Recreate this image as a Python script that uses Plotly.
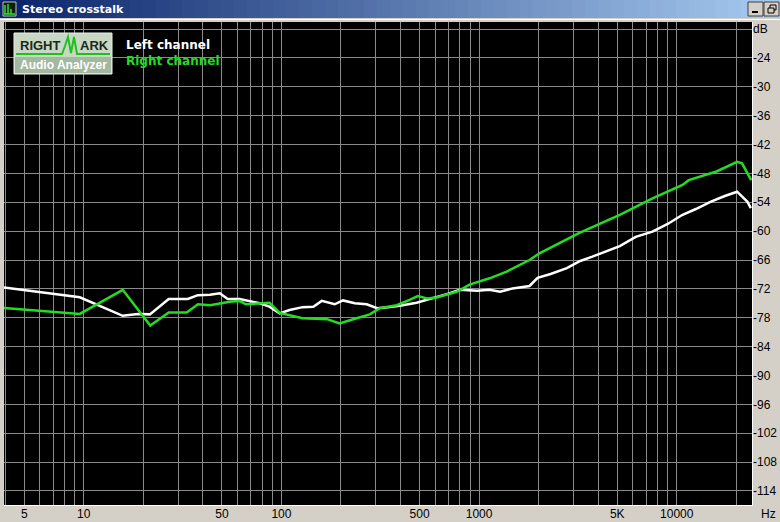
import plotly.graph_objects as go
import numpy as np

# ---------------- data ----------------
left_freq = [3.95, 9.55, 15.75, 18.8, 21.6, 26.9, 33.6, 37.8, 43.5, 48.8, 53.5, 61.5, 77.6, 87, 98,
             110, 128, 145, 160, 186, 205, 235, 270, 305, 345, 397, 483, 545, 686, 800, 978, 1130,
             1277, 1478, 1800, 1978, 2300, 2780, 3250, 3740, 4400, 5150, 6200, 7540, 9000, 10700,
             12500, 14800, 17500, 20200, 22800, 23700]
left_db = [-71.7, -73.75, -77.6, -77.2, -77.3, -74.1, -74.1, -73.3, -73.2, -72.9, -74.1, -74.1, -75.0, -75.7, -77.1,
           -76.4, -75.8, -75.7, -74.5, -75.2, -74.4, -75.0, -75.2, -76.0, -75.8, -75.5, -74.9, -74.3, -73.1, -72.2, -72.4, -72.2,
           -72.6, -71.9, -71.4, -69.7, -68.9, -67.7, -66.2, -65.3, -64.1, -63.1, -61.2, -60.1, -58.5, -56.6,
           -55.4, -53.9, -52.7, -51.8, -53.9, -55.2]

right_freq = [3.95, 9.55, 15.75, 21.7, 26.9, 33.2, 37.8, 43.5, 54.8, 61.5, 66, 87, 98, 128, 170, 197,
              240, 280, 315, 383, 445, 490, 545, 610, 770, 895, 1130, 1380, 1800, 2020, 3200, 5150,
              7540, 10700, 11500, 15900, 20200, 21400, 22800, 23800]
right_db = [-76.0, -77.2, -72.2, -79.6, -76.9, -76.9, -75.2, -75.4, -74.7, -74.5, -75.2, -74.9, -77.0, -78.1, -78.3, -79.2,
            -78.1, -77.3, -76.0, -75.4, -74.3, -73.5, -74.0, -73.8, -72.6, -71.1, -69.8, -68.4, -66.0, -64.6, -60.4, -56.6,
            -53.2, -50.4, -49.4, -47.6, -45.6, -45.9, -48.0, -49.4]

series_names = ["Left channel", "Right channel"]
series_colors = ["#ffffff", "#22dd22"]

x_grid = [4, 5, 6, 7, 8, 9, 10, 20, 30, 40, 50, 60, 70, 80, 90, 100, 200, 300, 400, 500, 600, 700, 800, 900,
          1000, 2000, 3000, 4000, 5000, 6000, 7000, 8000, 9000, 10000, 20000]
x_labels = {5: "5", 10: "10", 50: "50", 100: "100", 500: "500", 1000: "1000", 5000: "5K", 10000: "10000"}
y_ticks = list(range(-18, -115, -6))
y_labels = ["dB"] + [str(v) for v in y_ticks[1:]]

# ---------------- layout helpers ----------------
W, H = 780, 522
def px(x):
    return x / W
def py(y):
    return 1 - y / H

PL, PR, PT, PB = 4, 752, 22, 505
FONT = "Liberation Sans"

fig = go.Figure()
fig.add_trace(go.Scatter(x=left_freq, y=left_db, mode="lines", name=series_names[0],
                         line=dict(color=series_colors[0], width=2.5), showlegend=False))
fig.add_trace(go.Scatter(x=right_freq, y=right_db, mode="lines", name=series_names[1],
                         line=dict(color=series_colors[1], width=2.5), showlegend=False))

shapes = []
# title bar gradient
n = 60
c0 = np.array([10, 36, 106])
c1 = np.array([166, 202, 240])
for i in range(n):
    t = i / (n - 1)
    c = (c0 + (c1 - c0) * t).astype(int)
    shapes.append(dict(type="rect", xref="paper", yref="paper",
                       x0=px(W * i / n), x1=px(W * (i + 1) / n + 0.5), y0=py(18), y1=py(0),
                       fillcolor=f"rgb({c[0]},{c[1]},{c[2]})", line=dict(width=0), layer="below"))
# white line under title bar
shapes.append(dict(type="line", xref="paper", yref="paper", x0=0, x1=1, y0=py(19.5), y1=py(19.5),
                   line=dict(color="#ffffff", width=1)))
# icon
shapes.append(dict(type="rect", xref="paper", yref="paper", x0=px(3), x1=px(16), y0=py(16), y1=py(2),
                   fillcolor="#0c200c", line=dict(color="#c0c0c0", width=1)))
shapes.append(dict(type="path", xref="paper", yref="paper",
                   path=f"M {px(5)},{py(14)} L {px(5)},{py(5)} M {px(8)},{py(14)} L {px(8)},{py(4)} "
                        f"M {px(11)},{py(14)} L {px(11)},{py(9)} M {px(4)},{py(14)} L {px(15)},{py(14)}",
                   line=dict(color="#30e030", width=1.5)))
# window buttons
for bx in (748, 764):
    shapes.append(dict(type="rect", xref="paper", yref="paper", x0=px(bx), x1=px(bx + 15), y0=py(16), y1=py(2),
                       fillcolor="#d4d0c8", line=dict(color="#404040", width=1)))
shapes.append(dict(type="line", xref="paper", yref="paper", x0=px(752), x1=px(758), y0=py(12), y1=py(12),
                   line=dict(color="#000000", width=2)))
shapes.append(dict(type="rect", xref="paper", yref="paper", x0=px(770), x1=px(776), y0=py(10), y1=py(5),
                   line=dict(color="#000000", width=1)))
shapes.append(dict(type="rect", xref="paper", yref="paper", x0=px(768), x1=px(774), y0=py(13), y1=py(8),
                   fillcolor="#d4d0c8", line=dict(color="#000000", width=1)))
# plot border (sunken)
shapes.append(dict(type="line", xref="paper", yref="paper", x0=px(PL), x1=px(PR + 1), y0=py(PB + 0.5), y1=py(PB + 0.5),
                   line=dict(color="#ffffff", width=1)))
shapes.append(dict(type="line", xref="paper", yref="paper", x0=px(PR + 0.5), x1=px(PR + 0.5), y0=py(PT), y1=py(PB + 1),
                   line=dict(color="#ffffff", width=1)))
# logo
shapes.append(dict(type="rect", xref="paper", yref="paper", x0=px(14), x1=px(112), y0=py(74), y1=py(33),
                   fillcolor="#c8d8c4", line=dict(color="#e8f0e8", width=1)))
shapes.append(dict(type="rect", xref="paper", yref="paper", x0=px(15), x1=px(111), y0=py(73), y1=py(57),
                   fillcolor="#a4b8a0", line=dict(width=0)))
shapes.append(dict(type="path", xref="paper", yref="paper",
                   path=(f"M {px(16)},{py(54)} L {px(62)},{py(54)} L {px(65)},{py(46)} L {px(68)},{py(37)} "
                         f"L {px(71)},{py(53)} L {px(74)},{py(37)} L {px(77)},{py(54)} L {px(110)},{py(54)}"),
                   line=dict(color="#20c020", width=2)))

annotations = [
    dict(text="<b>Stereo crosstalk</b>", x=px(20), y=py(9), xref="paper", yref="paper", showarrow=False,
         xanchor="left", yanchor="middle", font=dict(family="DejaVu Sans", size=11, color="#ffffff")),
    dict(text="<b>RIGHT</b>", x=px(18), y=py(46), xref="paper", yref="paper", showarrow=False,
         xanchor="left", yanchor="middle", font=dict(family=FONT, size=13, color="#1a2a1a")),
    dict(text="<b>ARK</b>", x=px(78), y=py(46), xref="paper", yref="paper", showarrow=False,
         xanchor="left", yanchor="middle", font=dict(family=FONT, size=13, color="#1a2a1a")),
    dict(text="<b>Audio Analyzer</b>", x=px(63), y=py(65), xref="paper", yref="paper", showarrow=False,
         xanchor="center", yanchor="middle", font=dict(family=FONT, size=12, color="#ffffff")),
    dict(text="<b>" + series_names[0] + "</b>", x=px(124), y=py(45), xref="paper", yref="paper", showarrow=False,
         xanchor="left", yanchor="middle", font=dict(family="DejaVu Sans", size=12, color=series_colors[0])),
    dict(text="<b>" + series_names[1] + "</b>", x=px(124), y=py(61), xref="paper", yref="paper", showarrow=False,
         xanchor="left", yanchor="middle", font=dict(family="DejaVu Sans", size=12, color=series_colors[1])),
    dict(text="Hz", x=px(759), y=py(514), xref="paper", yref="paper", showarrow=False,
         xanchor="left", yanchor="middle", font=dict(family=FONT, size=12, color="#000000")),
]

fig.update_layout(
    width=W, height=H,
    margin=dict(l=0, r=0, t=0, b=0),
    paper_bgcolor="#d4d0c8",
    plot_bgcolor="#000000",
    shapes=shapes,
    annotations=annotations,
    showlegend=False,
    xaxis=dict(type="log", range=[np.log10(3.95), np.log10(24030)],
               domain=[px(PL), px(PR)], tickvals=x_grid,
               ticktext=[x_labels.get(v, "") for v in x_grid],
               showgrid=True, gridcolor="#8a8a8a", gridwidth=1, zeroline=False,
               ticks="", showline=False, tickfont=dict(family=FONT, size=12, color="#000000"),
               automargin=False),
    yaxis=dict(range=[-116.93, -16.52], domain=[py(PB), py(PT)], side="right",
               tickvals=y_ticks, ticktext=y_labels,
               showgrid=True, gridcolor="#8a8a8a", gridwidth=1, zeroline=False,
               ticks="", showline=False, tickfont=dict(family=FONT, size=12, color="#000000"),
               automargin=False),
)

fig.write_html("out.html", config={"displayModeBar": False},
               post_script="document.body.style.margin='0';document.body.style.overflow='hidden';")
